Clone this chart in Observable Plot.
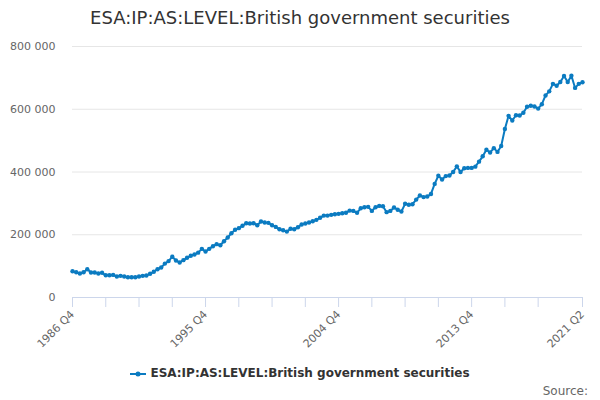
<!DOCTYPE html>
<html><head><meta charset="utf-8">
<script src="https://cdn.jsdelivr.net/npm/d3@7"></script>
<script src="https://cdn.jsdelivr.net/npm/@observablehq/plot@0.6"></script>
<style>
body{margin:0;background:#fff;font-family:"DejaVu Sans",sans-serif;}
#wrap{position:relative;width:600px;height:400px;overflow:hidden;background:#fff}
#title{position:absolute;top:7px;left:0;width:600px;text-align:center;font-size:18px;color:#333;white-space:nowrap}
#chart{position:absolute;top:36px;left:0}
#legend{position:absolute;top:366px;left:0;width:600px;text-align:center;font-size:12px;font-weight:bold;color:#333;white-space:nowrap}
#legend svg{vertical-align:middle;margin-right:4px}
#source{position:absolute;right:12px;top:384px;font-size:12px;color:#666}
</style>
</head><body>
<div id="wrap">
<div id="title"></div>
<div id="chart"></div>
<div id="legend"></div>
<div id="source">Source:</div>
</div>
<script>
const seriesName = "ESA:IP:AS:LEVEL:British government securities";
const startYear = 1986, startQuarter = 4;
const values = [
 83800, 80600, 76500, 80600, 90000, 79700, 79700, 76500, 78700, 71000,
 71000, 72000, 67000, 69000, 67000, 64700, 64700, 64700, 67000, 69000,
 70000, 75500, 82000, 90000, 95600, 108000, 116000, 130000, 118000, 111500,
 119000, 126500, 133000, 137000, 143000, 155000, 146600, 155000, 163500, 170000,
 166700, 179400, 191000, 205000, 215700, 221000, 228500, 236800, 235800, 236800,
 230400, 242000, 239000, 238000, 230400, 225000, 217700, 214500, 210000, 219000,
 217700, 224000, 232700, 235800, 239000, 243000, 247500, 254000, 261000, 261000,
 263500, 265500, 266600, 268700, 270000, 277000, 276000, 270000, 284600, 287800,
 289000, 276000, 287800, 292000, 291000, 272000, 276000, 287000, 279500, 274000,
 298600, 295400, 297400, 312000, 325000, 320000, 322000, 330000, 362000, 388000,
 376000, 387000, 389000, 400000, 418000, 400000, 412000, 413000, 413000, 417000,
 433000, 450000, 471000, 462000, 476000, 464000, 483000, 537000, 579000, 564000,
 581000, 580000, 589000, 608000, 611000, 609000, 602000, 616000, 644000, 657000,
 681000, 675000, 687000, 706000, 687000, 707000, 668000, 681000, 686000
];
const quarters = values.map((_, i) => {
  const q = startQuarter - 1 + i;
  return `${startYear + Math.floor(q / 4)} Q${q % 4 + 1}`;
});
const tickLabels = ["1986 Q4", "1995 Q4", "2004 Q4", "2013 Q4", "2021 Q2"];
const yTicks = [0, 200000, 400000, 600000, 800000];
const color = "#0b7bc1";

const data = values.map((v, i) => ({i, q: quarters[i], v}));
const last = values.length - 1;
const minorTicks = d3.range(0, last - 9, 9).concat([last]);
const labelTicks = tickLabels.map(l => quarters.indexOf(l));

document.getElementById("title").textContent = seriesName;
document.getElementById("legend").innerHTML =
  `<svg width="16" height="10"><line x1="0" x2="16" y1="5" y2="5" stroke="${color}" stroke-width="2"/><circle cx="8" cy="5" r="2.5" fill="${color}"/></svg>` + seriesName;

const fmt = d => d3.format(",")(d).replace(/,/g, " ");

const chart = Plot.plot({
  width: 600, height: 320,
  marginTop: 10, marginBottom: 59, marginLeft: 72, marginRight: 18,
  style: {fontFamily: "DejaVu Sans", fontSize: "11px", color: "#666", background: "#fff"},
  x: {domain: [0, last]},
  y: {domain: [0, 800000]},
  marks: [
    Plot.ruleY(yTicks.slice(1), {stroke: "#e6e6e6"}),
    Plot.axisY({ticks: yTicks, tickSize: 0, tickPadding: 17, tickFormat: fmt, fill: "#666", label: null}),
    Plot.axisX({ticks: minorTicks, tickSize: 10, tickFormat: () => "", stroke: "#ccd6eb", label: null}),
    Plot.axisX({ticks: labelTicks, tickSize: 0, tickPadding: 15, tickRotate: -45, tickFormat: i => quarters[i], fill: "#666", label: null}),
    Plot.ruleY([0], {stroke: "#ccd6eb"}),
    Plot.line(data, {x: "i", y: "v", stroke: color, strokeWidth: 2}),
    Plot.dot(data, {x: "i", y: "v", r: 2.2, fill: color, stroke: "none"})
  ]
});
document.getElementById("chart").appendChild(chart);
</script>
</body></html>
